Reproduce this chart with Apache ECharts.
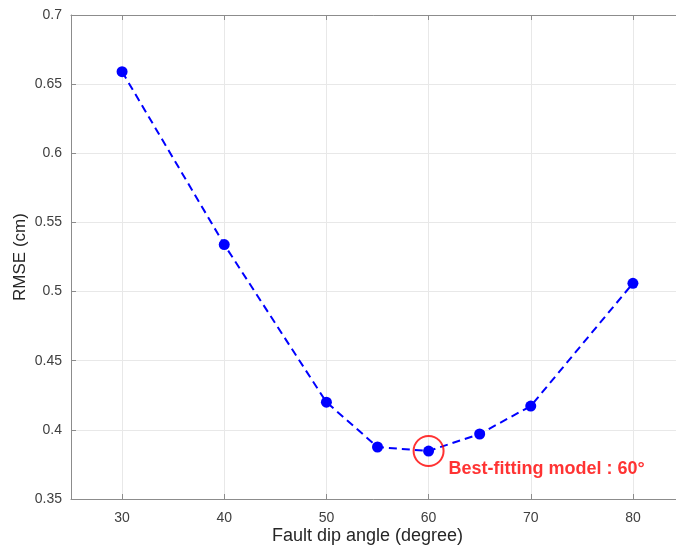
<!DOCTYPE html>
<html>
<head>
<meta charset="utf-8">
<script src="https://cdn.jsdelivr.net/npm/echarts@6/dist/echarts.min.js"></script>
<style>html,body{margin:0;padding:0;background:#fff}#c{width:676px;height:547px}</style>
</head>
<body>
<div id="c"></div>
<script>
var dipAngles = [30, 40, 50, 55, 60, 65, 70, 80];
var rmseValues = [0.659, 0.534, 0.420, 0.3876, 0.3847, 0.397, 0.4172, 0.506];
var xTicks = [30, 40, 50, 60, 70, 80];
var bestAngle = 60;
var bestRmse = 0.3847;
var bestLabel = 'Best-fitting model : 60°';
var xName = 'Fault dip angle (degree)';
var yName = 'RMSE (cm)';

var axisColor = '#8c8c8c';
var labelColor = '#404040';
var font = 'Liberation Sans, Arial, Helvetica, sans-serif';

var chart = echarts.init(document.getElementById('c'));
chart.setOption({
  animation: false,
  backgroundColor: '#fff',
  grid: { left: 71, top: 15, right: -8, bottom: 48, containLabel: false, outerBoundsMode: 'none' },
  xAxis: [{
    type: 'value', min: 25, max: 85,
    name: xName, nameLocation: 'middle', nameGap: 28, nameMoveOverlap: false,
    nameTextStyle: { fontFamily: font, fontSize: 18, color: '#262626', padding: [0, 20, 0, 0] },
    axisLine: { show: true, onZero: false, lineStyle: { color: axisColor, width: 1 } },
    axisTick: { show: true, inside: true, length: 5, customValues: xTicks, lineStyle: { color: axisColor } },
    axisLabel: { fontFamily: font, fontSize: 14, color: labelColor, margin: 12, customValues: xTicks },
    splitLine: { show: true, lineStyle: { color: '#e8e8e8', width: 1 } }
  }, {
    type: 'value', position: 'top', min: 25, max: 85,
    axisLine: { show: true, onZero: false, lineStyle: { color: axisColor, width: 1 } },
    axisTick: { show: true, inside: true, length: 5, customValues: xTicks, lineStyle: { color: axisColor } },
    axisLabel: { show: false, customValues: xTicks },
    splitLine: { show: false }
  }],
  yAxis: {
    type: 'value', min: 0.35, max: 0.7, interval: 0.05,
    name: yName, nameLocation: 'middle', nameGap: 42, nameMoveOverlap: false,
    nameTextStyle: { fontFamily: font, fontSize: 17, color: '#262626' },
    axisLine: { show: true, onZero: false, lineStyle: { color: axisColor, width: 1 } },
    axisTick: { show: true, inside: true, length: 5, lineStyle: { color: axisColor } },
    axisLabel: { fontFamily: font, fontSize: 14, color: labelColor, margin: 9,
      formatter: function (v) { return String(parseFloat(v.toFixed(2))); } },
    splitLine: { show: true, lineStyle: { color: '#e8e8e8', width: 1 } }
  },
  series: [{
    type: 'line',
    data: dipAngles.map(function (a, i) { return [a, rmseValues[i]]; }),
    symbol: 'circle', symbolSize: 11,
    itemStyle: { color: '#0000ff' },
    lineStyle: { color: '#0000ff', width: 2, type: [8, 5] },
    z: 3
  }, {
    type: 'scatter',
    data: [[bestAngle, bestRmse]],
    symbol: 'circle', symbolSize: 30,
    itemStyle: { color: 'rgba(0,0,0,0)', borderColor: '#ff0000', borderWidth: 2 },
    label: {
      show: true, formatter: bestLabel, position: [36, 34],
      align: 'left', verticalAlign: 'middle',
      fontFamily: font, fontSize: 18, fontWeight: 'bold', color: '#ff0000'
    },
    z: 4
  }]
});
</script>
</body>
</html>
